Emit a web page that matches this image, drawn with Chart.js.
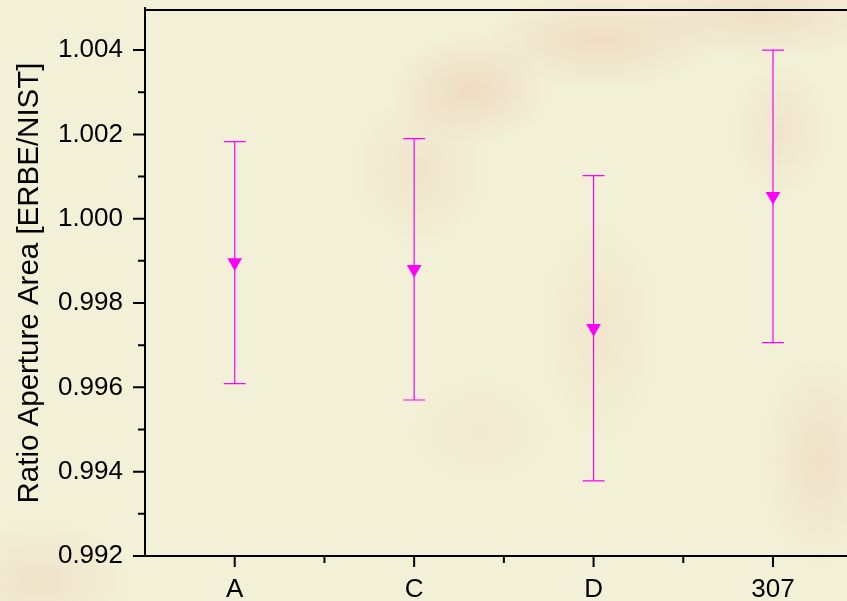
<html>
  <head>
    <script src="https://cdn.jsdelivr.net/npm/chart.js@4.4.0/dist/chart.umd.min.js"></script>
    <style>
      body {
        margin: 0;
        width: 847px;
        height: 601px;
        overflow: hidden;
        background-color: #f2f0d6;
        background-image:
          radial-gradient(ellipse 80px 55px at 470px 90px, rgba(236,192,172,0.45), rgba(236,192,172,0)),
          radial-gradient(ellipse 120px 50px at 600px 40px, rgba(236,197,175,0.45), rgba(236,197,175,0)),
          radial-gradient(ellipse 130px 45px at 760px 15px, rgba(236,197,175,0.4), rgba(236,197,175,0)),
          radial-gradient(ellipse 70px 80px at 420px 170px, rgba(236,202,180,0.3), rgba(236,202,180,0)),
          radial-gradient(ellipse 60px 120px at 600px 330px, rgba(236,202,180,0.25), rgba(236,202,180,0)),
          radial-gradient(ellipse 60px 110px at 820px 460px, rgba(236,197,175,0.35), rgba(236,197,175,0)),
          radial-gradient(ellipse 50px 70px at 780px 130px, rgba(236,202,180,0.3), rgba(236,202,180,0)),
          radial-gradient(ellipse 90px 60px at 40px 580px, rgba(236,202,180,0.35), rgba(236,202,180,0)),
          radial-gradient(ellipse 80px 60px at 480px 430px, rgba(236,207,187,0.2), rgba(236,207,187,0));
      }
    </style>
  </head>

  <body>
    <canvas id="ratio-chart" width="847" height="601"></canvas>
  </body>

  <script>
    // aperture area ratios with 1-sigma errors
    var categories = ['A', 'C', 'D', '307'];
    var ratios = [0.99896, 0.99880, 0.99740, 1.00053];
    var ratioErr = [0.00287, 0.00310, 0.00362, 0.00347];
    var yTicks = [0.992, 0.994, 0.996, 0.998, 1.000, 1.002, 1.004];

    var magenta = '#ff00ff';
    var font = "'Liberation Sans', Arial, sans-serif";

    var points = [];
    for (i = 0; i < ratios.length; i++) {
      points.push({x: i, y: ratios[i]});
    }

    // vertical error bars with caps
    var errorBars = {
      id: 'errorBars',
      beforeDatasetsDraw: function(chart) {
        var ctx = chart.ctx;
        var xs = chart.scales.x, ys = chart.scales.y;
        ctx.save();
        ctx.strokeStyle = magenta;
        ctx.lineWidth = 1.2;
        for (i = 0; i < ratios.length; i++) {
          var x = xs.getPixelForValue(i);
          var top = ys.getPixelForValue(ratios[i] + ratioErr[i]);
          var bot = ys.getPixelForValue(ratios[i] - ratioErr[i]);
          ctx.beginPath();
          ctx.moveTo(x, top); ctx.lineTo(x, bot);
          ctx.moveTo(x - 11, top); ctx.lineTo(x + 11, top);
          ctx.moveTo(x - 11, bot); ctx.lineTo(x + 11, bot);
          ctx.stroke();
        }
        ctx.restore();
      }
    };

    // frame lines plus major/minor tick marks, Origin style
    var frame = {
      id: 'frame',
      afterDraw: function(chart) {
        var ctx = chart.ctx;
        var a = chart.chartArea;
        var xs = chart.scales.x, ys = chart.scales.y;
        ctx.save();
        ctx.strokeStyle = '#000';
        ctx.lineWidth = 2;
        ctx.beginPath();
        ctx.moveTo(a.left, a.top - 3); ctx.lineTo(a.left, a.bottom + 1);
        ctx.moveTo(a.left - 1, a.bottom); ctx.lineTo(chart.width, a.bottom);
        ctx.moveTo(a.left - 1, a.top); ctx.lineTo(chart.width, a.top);
        ctx.stroke();
        ctx.beginPath();
        for (var k = 0; k <= 12; k++) {
          var y = ys.getPixelForValue(0.992 + k * 0.001);
          var len = (k % 2 == 0) ? 12 : 7;
          ctx.moveTo(a.left - len, y); ctx.lineTo(a.left, y);
        }
        for (var j = 0; j < categories.length * 2 - 1; j++) {
          var x = xs.getPixelForValue(j * 0.5);
          var l = (j % 2 == 0) ? 11 : 7;
          ctx.moveTo(x, a.bottom); ctx.lineTo(x, a.bottom + l);
        }
        ctx.stroke();
        ctx.restore();
      }
    };

    new Chart(document.getElementById('ratio-chart'), {
      type: 'scatter',
      data: {
        datasets: [{
          data: points,
          pointStyle: 'triangle',
          rotation: 180,
          radius: 8.5,
          backgroundColor: magenta,
          borderColor: magenta,
          borderWidth: 0
        }]
      },
      options: {
        responsive: false,
        animation: false,
        layout: { padding: { top: 10, left: 0, right: 0, bottom: 0 } },
        plugins: {
          legend: { display: false },
          tooltip: { enabled: false }
        },
        scales: {
          x: {
            type: 'linear',
            min: -0.5,
            max: 3.365,
            grid: { display: false, drawTicks: false },
            border: { display: false },
            afterBuildTicks: function(scale) {
              scale.ticks = categories.map(function(c, i) { return {value: i}; });
            },
            afterFit: function(scale) {
              scale.height = 45;
              scale.paddingLeft = 0;
              scale.paddingRight = 0;
            },
            ticks: {
              color: '#000',
              padding: 18,
              maxRotation: 0,
              autoSkip: false,
              font: { family: font, size: 26 },
              callback: function(v) { return categories[v]; }
            }
          },
          y: {
            min: 0.992,
            max: 1.00495,
            grid: { display: false, drawTicks: false },
            border: { display: false },
            afterBuildTicks: function(scale) {
              scale.ticks = yTicks.map(function(v) { return {value: v}; });
            },
            afterFit: function(scale) {
              scale.width = 145;
              scale.paddingTop = 0;
              scale.paddingBottom = 0;
            },
            ticks: {
              color: '#000',
              padding: 22,
              font: { family: font, size: 26 },
              callback: function(v) { return v.toFixed(3); }
            },
            title: {
              display: true,
              text: 'Ratio Aperture Area [ERBE/NIST]',
              color: '#000',
              padding: { top: 12, bottom: 0 },
              font: { family: font, size: 29.5 }
            }
          }
        }
      },
      plugins: [errorBars, frame]
    });
  </script>
</html>
